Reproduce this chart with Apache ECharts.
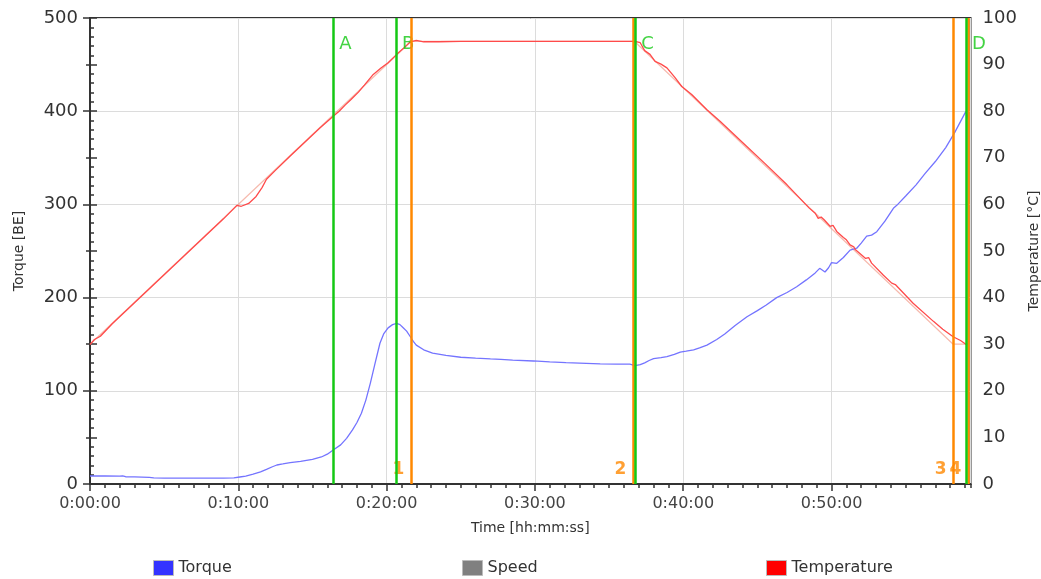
<!DOCTYPE html>
<html>
<head>
<meta charset="utf-8">
<script src="https://cdn.jsdelivr.net/npm/echarts@6/dist/echarts.min.js"></script>
<style>html,body{margin:0;padding:0;background:#fff}#c{width:1041px;height:579px}</style>
</head>
<body>
<div id="c"></div>
<script>
// ---- Data (time in minutes) ----
const xTickMinutes = [0, 10, 20, 30, 40, 50];
const timeMax = 59.37;

const torque = [[0,8.6],[1,8.6],[2,8.4],[2.2,8.8],[2.3,10.8],[2.4,7.8],[3,7.6],[4,7.2],[4.3,6.5],[5,6.4],[6,6.4],[7,6.3],[8,6.4],[9,6.4],[9.7,6.5],[10.1,7.5],[10.5,8.5],[11,10.7],[11.5,13],[11.9,15.7],[12.3,18.5],[12.6,20.4],[13,21.5],[13.5,22.9],[14.2,24.2],[15,26.5],[15.6,29],[16,32],[16.4,36.5],[16.9,42],[17.3,49],[17.7,58],[18,66],[18.3,76],[18.6,90],[18.9,108],[19.2,128],[19.55,151],[19.8,161],[20.1,167.5],[20.4,171],[20.68,172.4],[20.9,171],[21.1,168],[21.35,164],[21.6,158],[21.8,153],[22,149],[22.5,144],[23.1,140.5],[24,138],[25,136],[26,135],[27,134.2],[27.7,133.8],[28.5,133],[29.9,132],[31,131],[32.1,130.2],[33,129.8],[34.4,128.8],[35.5,128.6],[36.4,128.6],[36.75,127],[37.1,128],[37.4,130],[37.7,132.5],[38,134.5],[38.5,135.5],[38.9,136.6],[39.4,139],[39.8,141.5],[40.2,142.5],[40.7,143.8],[41.1,146],[41.6,149],[42.26,155],[42.8,161],[43.5,170],[44.3,179.5],[45,186],[45.6,192],[46.3,200],[47,205.5],[47.65,211.7],[48.3,219],[48.9,226.5],[49.2,231.4],[49.56,227.5],[49.8,232],[50,237.5],[50.35,236.8],[50.8,243],[51.25,251],[51.7,253],[52.0,258.5],[52.37,266],[52.7,267],[53.05,270.7],[53.6,282],[54.17,295.8],[54.4,299],[55,309],[55.7,321],[56.3,333],[57,346],[57.7,361],[58.3,377],[59.05,399.5],[59.23,392]];

const speed = [];

const temperatureSetpoint = [[0,30],[21.67,95],[36.7,95],[58.2,30],[59.23,30]];

const temperature = [[0,29.9],[0.3,31],[0.7,31.7],[1.5,34.4],[3,38.9],[4.5,43.4],[6,47.9],[7.5,52.4],[9,56.9],[9.9,59.8],[10.2,59.6],[10.7,60.2],[11.2,61.7],[11.6,63.6],[11.9,65.4],[12.5,67.3],[13.5,70.4],[14.5,73.4],[15.5,76.4],[16.4,78.9],[16.8,80],[17.2,81.3],[17.6,82.5],[18.1,84.1],[18.5,85.6],[19.1,87.9],[19.6,89.2],[20.1,90.4],[20.68,92.2],[21.2,93.7],[21.6,94.9],[22,95.2],[22.5,94.9],[23.5,94.9],[25,95],[27,95],[29,95],[31,95],[33,95],[35,95],[36.3,95],[36.75,95],[37.1,94.7],[37.4,93],[37.76,92.2],[38.1,90.7],[38.5,90.1],[38.9,89.3],[39.45,87.2],[39.9,85.3],[40.57,83.6],[41.6,80.3],[42.5,77.8],[44,73.3],[45.5,68.8],[47,64.2],[48.5,59.2],[48.9,58.1],[49.1,57],[49.3,57.3],[49.5,56.7],[49.9,55.3],[50.1,55.5],[50.35,54.2],[50.8,52.9],[51.0,52.4],[51.25,51.3],[51.5,50.9],[51.6,50.3],[52.3,48.4],[52.5,48.6],[52.7,47.4],[53.5,44.8],[54.06,43.1],[54.3,42.8],[55.5,38.8],[56.87,34.9],[57.5,33.2],[58.2,31.6],[58.7,30.8],[59.1,29.9]];

const greenMarkerNames = ['A', 'B', 'C', 'D'];
const greenMarkerTimes = [16.41, 20.63, 36.77, 59.07];
const orangeMarkerNames = ['1', '2', '3', '4'];
const orangeMarkerTimes = [21.67, 36.64, 58.23, 59.22];

// ---- Chart ----
const FONT = 'DejaVu Sans';
const GREEN = '#14c814';
const ORANGE = '#ff8800';
const pad = n => (n < 10 ? '0' : '') + n;

const chart = echarts.init(document.getElementById('c'), null, {renderer: 'canvas'});

const markLineData = [];
orangeMarkerTimes.forEach((t) => markLineData.push({xAxis: t, lineStyle: {color: ORANGE, width: 2.5, type: 'solid'}}));
greenMarkerTimes.forEach((t) => markLineData.push({xAxis: t, lineStyle: {color: GREEN, width: 2.5, type: 'solid'}}));

const legendBase = {
  top: 555, itemWidth: 20, itemHeight: 15, selectedMode: false, icon: 'rect',
  textStyle: {fontFamily: FONT, fontSize: 16, color: '#333'},
  itemGap: 8
};

chart.setOption({
  animation: false,
  backgroundColor: '#fff',
  textStyle: {fontFamily: FONT},
  grid: {left: 90, right: 70.5, top: 18, height: 466, show: true, borderColor: '#333', borderWidth: 2,
    containLabel: false, outerBoundsMode: 'none'},
  legend: [
    Object.assign({}, legendBase, {left: 148, data: [{name: 'Torque', itemStyle: {color: '#3333ff', borderColor: '#bbb', borderWidth: 1}}]}),
    Object.assign({}, legendBase, {left: 457, data: [{name: 'Speed', itemStyle: {color: '#808080', borderColor: '#bbb', borderWidth: 1}}]}),
    Object.assign({}, legendBase, {left: 761, data: [{name: 'Temperature', itemStyle: {color: '#ff0000', borderColor: '#bbb', borderWidth: 1}}]})
  ],
  xAxis: [{
    type: 'value', min: 0, max: timeMax, interval: 10,
    name: 'Time [hh:mm:ss]', nameLocation: 'middle', nameGap: 37,
    nameTextStyle: {fontFamily: FONT, fontSize: 14, color: '#333'},
    axisLine: {lineStyle: {color: '#333', width: 2}},
    axisTick: {length: 7, lineStyle: {color: '#333', width: 1.5}},
    axisLabel: {fontFamily: FONT, fontSize: 16, color: '#444', margin: 12, showMaxLabel: false,
      formatter: v => (xTickMinutes.indexOf(v) >= 0 ? '0:' + pad(v) + ':00' : '')},
    splitLine: {show: true, lineStyle: {color: '#dcdcdc', width: 1}}
  }, {
    type: 'value', min: 0, max: timeMax, interval: 1, position: 'bottom',
    axisLine: {show: false},
    axisTick: {show: true, length: 4, lineStyle: {color: '#333', width: 1.5}},
    axisLabel: {show: false}, splitLine: {show: false}
  }],
  yAxis: [{
    type: 'value', min: 0, max: 500, interval: 100, position: 'left',
    name: 'Torque [BE]', nameLocation: 'middle', nameGap: 64, nameRotate: 90,
    nameTextStyle: {fontFamily: FONT, fontSize: 14, color: '#333'},
    axisLine: {show: true, lineStyle: {color: '#333', width: 2}},
    axisTick: {show: true, length: 7, lineStyle: {color: '#333', width: 1.5}},
    minorTick: {show: true, splitNumber: 2, length: 4, lineStyle: {color: '#333', width: 1.5}},
    axisLabel: {fontFamily: FONT, fontSize: 18, color: '#333', margin: 12},
    splitLine: {show: true, lineStyle: {color: '#dcdcdc', width: 1}}
  }, {
    type: 'value', min: 0, max: 100, interval: 10, position: 'right',
    name: 'Temperature [°C]', nameLocation: 'middle', nameGap: 51, nameRotate: 90,
    nameTextStyle: {fontFamily: FONT, fontSize: 14, color: '#333'},
    axisLine: {show: true, lineStyle: {color: '#333', width: 2}},
    axisTick: {show: true, length: 7, lineStyle: {color: '#333', width: 1.5}},
    minorTick: {show: true, splitNumber: 5, length: 4, lineStyle: {color: '#333', width: 1.5}},
    axisLabel: {fontFamily: FONT, fontSize: 18, color: '#333', margin: 12},
    splitLine: {show: false}
  }],
  series: [
    {name: 'Torque', type: 'line', yAxisIndex: 0, data: torque, showSymbol: false, symbol: 'none',
      lineStyle: {color: '#7474ff', width: 1.3}, itemStyle: {color: '#7474ff'}, z: 3},
    {name: 'Speed', type: 'line', yAxisIndex: 0, data: speed, showSymbol: false, symbol: 'none',
      lineStyle: {color: '#808080', width: 1.3}, itemStyle: {color: '#808080'}},
    {name: 'Temperature setpoint', type: 'line', yAxisIndex: 1, data: temperatureSetpoint, showSymbol: false, symbol: 'none',
      lineStyle: {color: 'rgba(240,140,120,0.6)', width: 1.2}, z: 2},
    {name: 'Temperature', type: 'line', yAxisIndex: 1, data: temperature, showSymbol: false, symbol: 'none',
      lineStyle: {color: '#ff4a4a', width: 1.3}, itemStyle: {color: '#ff4a4a'}, z: 3},
    {name: 'markers', type: 'line', yAxisIndex: 0, data: [], z: 5,
      markLine: {silent: true, symbol: ['none', 'none'], animation: false, label: {show: false}, data: markLineData}},
    {name: 'greenLabels', type: 'scatter', yAxisIndex: 1, symbolSize: 0, z: 4, silent: true,
      data: greenMarkerTimes.map((t, i) => ({value: [t, 94.3], name: greenMarkerNames[i]})),
      label: {show: true, position: 'right', distance: 6, formatter: p => p.name,
        fontFamily: FONT, fontSize: 18, color: GREEN}},
    {name: 'orangeLabels', type: 'scatter', yAxisIndex: 1, symbolSize: 0, z: 4, silent: true,
      data: orangeMarkerTimes.map((t, i) => ({value: [t, 3.0], name: orangeMarkerNames[i]})),
      label: {show: true, position: 'left', distance: 7, formatter: p => p.name,
        fontFamily: FONT, fontSize: 17, fontWeight: 'bold', color: ORANGE}}
  ]
});
</script>
</body>
</html>
